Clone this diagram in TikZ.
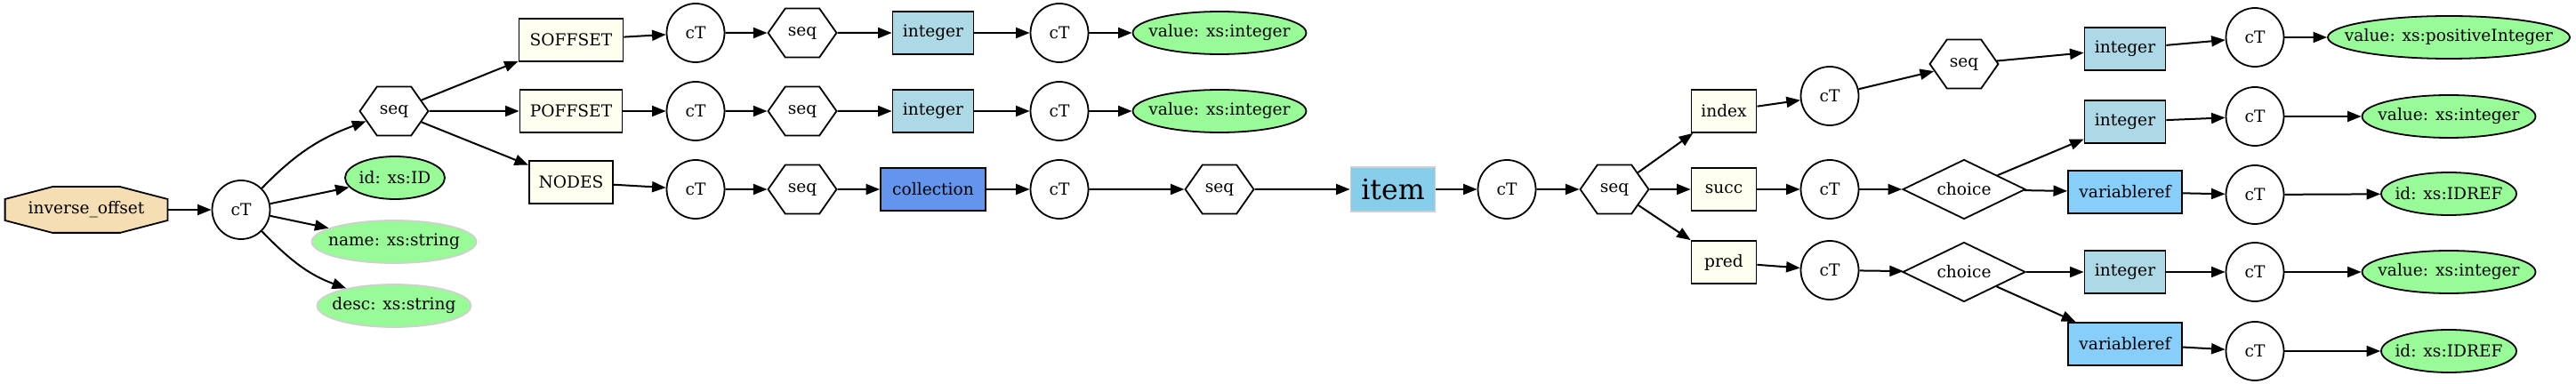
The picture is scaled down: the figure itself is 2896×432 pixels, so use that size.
\documentclass[tikz,border=0pt]{standalone}
\usepackage{fontspec}
\setmainfont{DejaVu Serif}
\usetikzlibrary{arrows.meta,shapes.geometric,shapes.symbols}
\pgfdeclarelayer{background}
\pgfsetlayers{background,main}
\definecolor{wheatc}{HTML}{F5DEB3}
\definecolor{ivoryc}{HTML}{FFFFF0}
\definecolor{lblue}{HTML}{ADD8E6}
\definecolor{cblue}{HTML}{6495ED}
\definecolor{sblue}{HTML}{87CEEB}
\definecolor{lsblue}{HTML}{87CEFA}
\definecolor{pgreen}{HTML}{98FB98}
\definecolor{lgrayc}{HTML}{D0D0D0}
\newcommand\zb[1]{\makebox[0pt]{#1}}
\begin{document}
\begin{tikzpicture}[x=0.5pt,y=0.5pt,
  every node/.style={font=\fontsize{9.3}{11}\selectfont},
  ct/.style={ellipse, draw, line width=0.9pt, minimum width=32.5pt, minimum height=33pt, inner sep=0pt},
  seqh/.style={signal, signal to=east and west, signal pointer angle=110, draw, line width=0.9pt,
    minimum height=27.5pt, inner xsep=9.6pt, inner ysep=0pt},
  bx/.style={rectangle, draw, line width=0.9pt, fill=ivoryc, minimum height=24pt, minimum width=#1, inner sep=0pt},
  ib/.style={bx=45.5pt, fill=lblue},
  vb/.style={bx=64pt, fill=lsblue},
  gell/.style={ellipse, draw, line width=0.9pt, fill=pgreen, minimum height=24pt, minimum width=#1, inner sep=0pt},
  gnob/.style={gell=#1, draw=lgrayc},
  ch/.style={diamond, draw, line width=0.9pt, minimum width=69pt, minimum height=33.5pt, inner sep=0pt},
  e/.style={-{Triangle[length=7.8pt,width=6pt]}, line width=1pt}
]
\useasboundingbox (0,0) rectangle (2896,-432);

% left part
\node[rectangle, minimum width=91pt, minimum height=25.5pt, inner sep=0pt] (io) at (97,-236) {\zb{inverse\_offset}};
\begin{pgfonlayer}{background}
\draw[fill=wheatc, line width=0.9pt] ([xshift=-19pt]io.north) -- ([xshift=19pt]io.north) -- ([yshift=6pt]io.east) -- ([yshift=-6pt]io.east) -- ([xshift=19pt]io.south) -- ([xshift=-19pt]io.south) -- ([yshift=-6pt]io.west) -- ([yshift=6pt]io.west) -- cycle;
\end{pgfonlayer}
\node[ct] (c0) at (271,-236) {\zb{cT}};
\node[seqh] (s0) at (443,-125) {\zb{seq}};
\node[gell=56pt] (idn) at (444,-200) {\zb{id: xs:ID}};
\node[gnob=92.5pt] (nm) at (443,-272) {\zb{name: xs:string}};
\node[gnob=86.5pt] (ds) at (443,-344) {\zb{desc: xs:string}};

\node[bx=58.5pt] (soff) at (642,-45) {\zb{SOFFSET}};
\node[bx=57.5pt] (poff) at (642,-125) {\zb{POFFSET}};
\node[bx=47pt] (nds) at (642,-205) {\zb{NODES}};

% row 1
\node[ct] (c1) at (782,-37) {\zb{cT}};
\node[seqh] (s1) at (902,-37) {\zb{seq}};
\node[ib] (i1) at (1049,-37) {\zb{integer}};
\node[ct] (c1b) at (1191,-37) {\zb{cT}};
\node[gell=97.5pt] (v1) at (1371,-37) {\zb{value: xs:integer}};
% row 2
\node[ct] (c2) at (782,-125) {\zb{cT}};
\node[seqh] (s2) at (902,-125) {\zb{seq}};
\node[ib] (i2) at (1049,-125) {\zb{integer}};
\node[ct] (c2b) at (1191,-125) {\zb{cT}};
\node[gell=97.5pt] (v2) at (1371,-125) {\zb{value: xs:integer}};
% row 3
\node[ct] (c3) at (782,-213) {\zb{cT}};
\node[seqh] (s3) at (902,-213) {\zb{seq}};
\node[bx=59pt, fill=cblue] (col) at (1049,-213) {\zb{collection}};
\node[ct] (c4) at (1191,-213) {\zb{cT}};
\node[seqh] (s4) at (1371,-213) {\zb{seq}};
\node[bx=47.5pt, minimum height=25pt, fill=sblue, draw=lgrayc, font=\fontsize{15.8}{18}\selectfont] (itm) at (1566,-213) {\zb{item}};
\node[ct] (c5) at (1694,-213) {\zb{cT}};
\node[seqh] (s5) at (1815,-213) {\zb{seq}};

\node[bx=36.5pt] (idx) at (1938,-125) {\zb{index}};
\node[bx=36.5pt] (suc) at (1938,-213) {\zb{succ}};
\node[bx=36.5pt] (prd) at (1938,-295) {\zb{pred}};

\node[ct] (c6) at (2057,-108) {\zb{cT}};
\node[ct] (c7) at (2057,-213) {\zb{cT}};
\node[ct] (c8) at (2057,-304) {\zb{cT}};

\node[seqh] (s6) at (2208,-72) {\zb{seq}};
\node[ch] (ch1) at (2208,-213) {\zb{choice}};
\node[ch] (ch2) at (2208,-306) {\zb{choice}};

\node[ib] (iA) at (2389,-55) {\zb{integer}};
\node[ib] (iB) at (2389,-137) {\zb{integer}};
\node[vb] (rA) at (2389,-216) {\zb{variableref}};
\node[ib] (iC) at (2389,-306) {\zb{integer}};
\node[vb] (rB) at (2389,-387) {\zb{variableref}};

\node[ct] (cA) at (2535,-42) {\zb{cT}};
\node[ct] (cB) at (2535,-131) {\zb{cT}};
\node[ct] (cC) at (2535,-219) {\zb{cT}};
\node[ct] (cD) at (2535,-306) {\zb{cT}};
\node[ct] (cE) at (2535,-395) {\zb{cT}};

\node[gell=136pt] (vA) at (2753,-42) {\zb{value: xs:positiveInteger}};
\node[gell=97.5pt] (vB) at (2753,-131) {\zb{value: xs:integer}};
\node[gell=76pt] (dA) at (2753,-218) {\zb{id: xs:IDREF}};
\node[gell=97.5pt] (vC) at (2753,-306) {\zb{value: xs:integer}};
\node[gell=76pt] (dB) at (2753,-395) {\zb{id: xs:IDREF}};

% edges
\draw[e] (io) -- (c0);
\draw[e] (c0) to[out=46, in=-160] (s0);
\draw[e] (c0) -- (idn);
\draw[e] (c0) -- (nm);
\draw[e] (c0) to[out=-46, in=160] (ds);
\draw[e] (s0) -- (soff);
\draw[e] (s0) -- (poff);
\draw[e] (s0) -- (nds);
\draw[e] (soff) -- (c1);
\draw[e] (poff) -- (c2);
\draw[e] (nds) -- (c3);
\draw[e] (c1) -- (s1);
\draw[e] (s1) -- (i1);
\draw[e] (i1) -- (c1b);
\draw[e] (c1b) -- (v1);
\draw[e] (c2) -- (s2);
\draw[e] (s2) -- (i2);
\draw[e] (i2) -- (c2b);
\draw[e] (c2b) -- (v2);
\draw[e] (c3) -- (s3);
\draw[e] (s3) -- (col);
\draw[e] (col) -- (c4);
\draw[e] (c4) -- (s4);
\draw[e] (s4) -- (itm);
\draw[e] (itm) -- (c5);
\draw[e] (c5) -- (s5);
\draw[e] (s5) -- (idx);
\draw[e] (s5) -- (suc);
\draw[e] (s5) -- (prd);
\draw[e] (idx) -- (c6);
\draw[e] (suc) -- (c7);
\draw[e] (prd) -- (c8);
\draw[e] (c6) -- (s6);
\draw[e] (c7) -- (ch1);
\draw[e] (c8) -- (ch2);
\draw[e] (s6) -- (iA);
\draw[e] (ch1) -- (iB);
\draw[e] (ch1) -- (rA);
\draw[e] (ch2) -- (iC);
\draw[e] (ch2) -- (rB);
\draw[e] (iA) -- (cA);
\draw[e] (iB) -- (cB);
\draw[e] (rA) -- (cC);
\draw[e] (iC) -- (cD);
\draw[e] (rB) -- (cE);
\draw[e] (cA) -- (vA);
\draw[e] (cB) -- (vB);
\draw[e] (cC) -- (dA);
\draw[e] (cD) -- (vC);
\draw[e] (cE) -- (dB);
\end{tikzpicture}
\end{document}
